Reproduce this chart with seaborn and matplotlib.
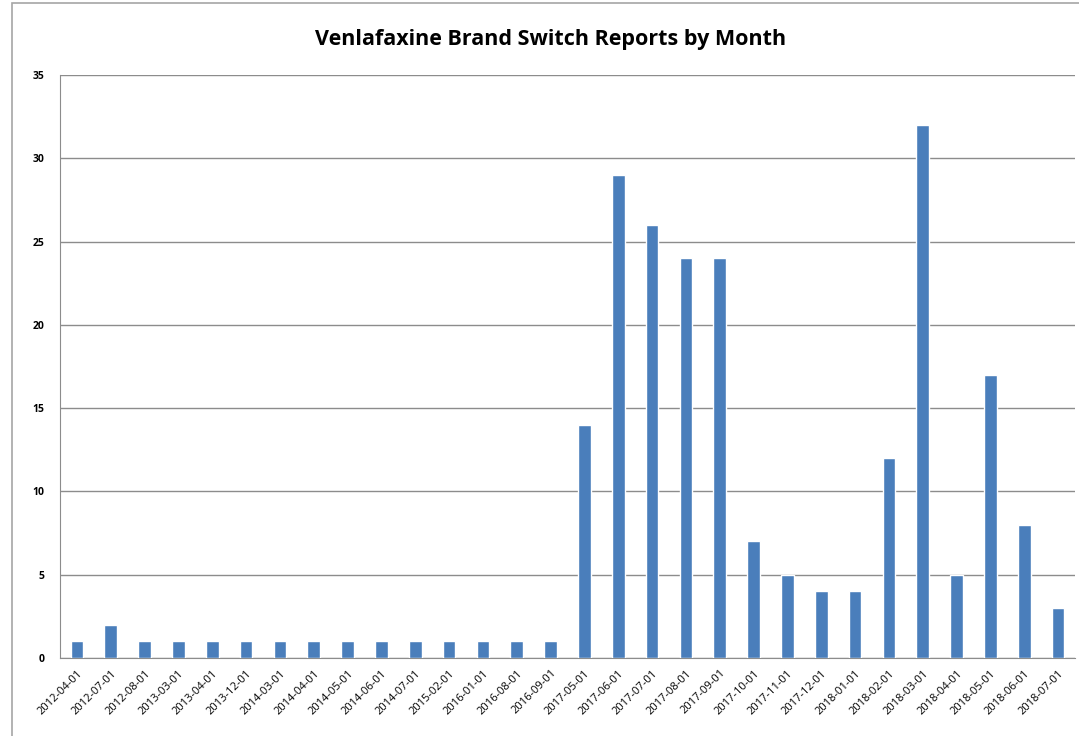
import numpy as np
import pandas as pd
import matplotlib
matplotlib.use("Agg")
import matplotlib.pyplot as plt
import seaborn as sns
from matplotlib.patches import Rectangle

# months with reports and number of reports
months = ["2012-04-01", "2012-07-01", "2012-08-01", "2013-03-01", "2013-04-01",
          "2013-12-01", "2014-03-01", "2014-04-01", "2014-05-01", "2014-06-01",
          "2014-07-01", "2015-02-01", "2016-01-01", "2016-08-01", "2016-09-01",
          "2017-05-01", "2017-06-01", "2017-07-01", "2017-08-01", "2017-09-01",
          "2017-10-01", "2017-11-01", "2017-12-01", "2018-01-01", "2018-02-01",
          "2018-03-01", "2018-04-01", "2018-05-01", "2018-06-01", "2018-07-01"]
reports = [1, 2, 1, 1, 1, 1, 1, 1, 1, 1, 1, 1, 1, 1, 1,
           14, 29, 26, 24, 24, 7, 5, 4,
           4, 12, 32, 5, 17, 8, 3]
y_ticks = [0, 5, 10, 15, 20, 25, 30, 35]

df = pd.DataFrame({"month": months, "count": reports})

sns.set_style("white")
plt.rcParams['font.family'] = ['Open Sans', 'DejaVu Sans']
plt.rcParams['text.color'] = 'black'
plt.rcParams['xtick.labelcolor'] = 'black'
plt.rcParams['ytick.labelcolor'] = 'black'

fig = plt.figure(figsize=(10.79, 7.36), dpi=100)
ax = fig.add_axes([60 / 1079, 1 - 658 / 736, 1015 / 1079, 583 / 736])

# outer chart border like the spreadsheet chart area
fig.patches.append(Rectangle((12 / 1079, -0.01), 1.0, 1 - 3 / 736 + 0.01,
                             transform=fig.transFigure, fill=False,
                             edgecolor='#a6a6a6', lw=1.2, zorder=0))

sns.barplot(data=df, x="month", y="count", color='#4A7EBB', saturation=1,
            width=0.37, ax=ax, zorder=3)

ax.set_ylim(0, 35)
ax.set_xlim(-0.5, len(months) - 0.5)
ax.set_yticks(y_ticks)
ax.set_yticklabels([str(t) for t in y_ticks], fontsize=7.5, fontweight='bold')
ax.yaxis.grid(True, color='#8c8c8c', lw=1, zorder=0)
ax.set_axisbelow(True)

ax.set_xticks(range(len(months)))
ax.set_xticklabels(months, rotation=45, ha='right', rotation_mode='anchor',
                   fontsize=8)
ax.tick_params(axis='x', length=0, pad=7)
ax.set_xticks(np.arange(len(months) + 1) - 0.5, minor=True)
ax.tick_params(axis='x', which='minor', length=5, color='#8c8c8c', direction='out')
ax.tick_params(axis='y', length=5, color='#8c8c8c', direction='out', pad=6)

ax.set_xlabel("")
ax.set_ylabel("")
sns.despine(ax=ax, top=True, right=True)
ax.spines['left'].set_color('#8c8c8c')
ax.spines['bottom'].set_color('#8c8c8c')

fig.text(551 / 1079, 1 - 40 / 736, "Venlafaxine Brand Switch Reports by Month",
         ha='center', va='center', fontsize=15.5, fontweight='bold')

fig.savefig("out.png", dpi=100)
